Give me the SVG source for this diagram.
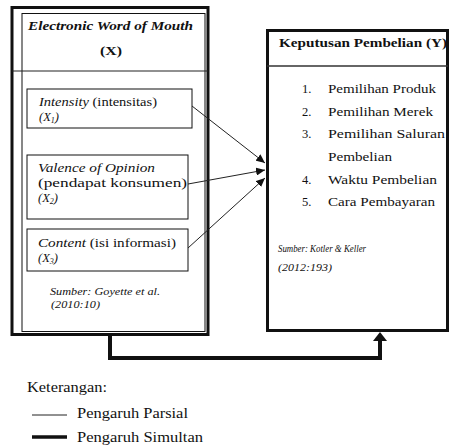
<svg xmlns="http://www.w3.org/2000/svg" width="450" height="446" viewBox="0 0 450 446" font-family="'Liberation Serif', 'Times New Roman', 'DejaVu Serif', serif">
<style>
text{font-family:'Liberation Serif','Times New Roman','DejaVu Serif',serif;fill:#111}
.b{font-weight:bold}
.i{font-style:italic}
.t{font-size:12.5px}
.s{font-size:10.5px;font-style:italic}
.l{font-size:14px}
.box{fill:none;stroke:#111}
.thin{stroke:#222;stroke-width:1;fill:none}
</style>
<defs>
<marker id="ah" markerUnits="userSpaceOnUse" markerWidth="10" markerHeight="8" refX="9" refY="4" orient="auto" viewBox="0 0 10 8">
<path d="M0,0 L9,4 L0,8 z" fill="#111"/>
</marker>
<marker id="ahb" markerUnits="userSpaceOnUse" markerWidth="10" markerHeight="14" refX="0" refY="7" orient="auto" viewBox="0 0 10 14">
<path d="M0,0 L9,7 L0,14 z" fill="#111"/>
</marker>
</defs>
<rect width="450" height="446" fill="#fff"/>

<g id="ewom">
<rect class="box" x="12" y="7.5" width="196" height="327" stroke-width="3"/>
<rect class="box" x="22" y="13.5" width="183" height="318" stroke-width="1"/>
<line x1="12" y1="71" x2="208" y2="71" stroke="#222" stroke-width="1.2"/>
<text class="t b i" x="28" y="30" textLength="165" lengthAdjust="spacingAndGlyphs">Electronic Word of Mouth</text>
<text class="t b" x="100" y="55" textLength="22" lengthAdjust="spacingAndGlyphs">(X)</text>
<text class="s" x="50" y="295" textLength="110" lengthAdjust="spacingAndGlyphs">Sumber: Goyette et al.</text>
<text class="s" x="51" y="308" textLength="49" lengthAdjust="spacingAndGlyphs">(2010:10)</text>
</g>

<g id="x1">
<rect class="box" x="27" y="89" width="165" height="39" stroke-width="1"/>
<text class="t" x="39" y="106" textLength="118" lengthAdjust="spacingAndGlyphs"><tspan class="i">Intensity</tspan> (intensitas)</text>
<text class="t i" x="39" y="121">(X<tspan font-size="8" dy="2">1</tspan><tspan dy="-2">)</tspan></text>
</g>

<g id="x2">
<rect class="box" x="27" y="155" width="161" height="64" stroke-width="1"/>
<text class="t i" x="38" y="172" textLength="117" lengthAdjust="spacingAndGlyphs">Valence of Opinion</text>
<text class="t" x="38" y="187" textLength="149" lengthAdjust="spacingAndGlyphs">(pendapat konsumen)</text>
<text class="t i" x="38" y="202">(X<tspan font-size="8" dy="2">2</tspan><tspan dy="-2">)</tspan></text>
</g>

<g id="x3">
<rect class="box" x="27" y="229" width="161" height="42" stroke-width="1"/>
<text class="t" x="38" y="247" textLength="138" lengthAdjust="spacingAndGlyphs"><tspan class="i">Content</tspan> (isi informasi)</text>
<text class="t i" x="38" y="262">(X<tspan font-size="8" dy="2">3</tspan><tspan dy="-2">)</tspan></text>
</g>

<g id="y">
<rect class="box" x="267.5" y="30.5" width="180" height="300" stroke-width="3"/>
<line x1="267" y1="66" x2="448" y2="66" stroke="#333" stroke-width="1.5"/>
<text class="t b" x="279" y="47" textLength="168" lengthAdjust="spacingAndGlyphs">Keputusan Pembelian (Y)</text>
<text class="t" x="302" y="93">1.</text>
<text class="t" x="328" y="93" textLength="108" lengthAdjust="spacingAndGlyphs">Pemilihan Produk</text>
<text class="t" x="302" y="116">2.</text>
<text class="t" x="328" y="116" textLength="105" lengthAdjust="spacingAndGlyphs">Pemilihan Merek</text>
<text class="t" x="302" y="138">3.</text>
<text class="t" x="328" y="138" textLength="117" lengthAdjust="spacingAndGlyphs">Pemilihan Saluran</text>
<text class="t" x="328" y="161" textLength="64" lengthAdjust="spacingAndGlyphs">Pembelian</text>
<text class="t" x="302" y="184">4.</text>
<text class="t" x="328" y="184" textLength="109" lengthAdjust="spacingAndGlyphs">Waktu Pembelian</text>
<text class="t" x="302" y="206">5.</text>
<text class="t" x="328" y="206" textLength="107" lengthAdjust="spacingAndGlyphs">Cara Pembayaran</text>
<text class="s" x="278" y="252" textLength="88" lengthAdjust="spacingAndGlyphs">Sumber: Kotler &amp; Keller</text>
<text class="s" x="278" y="271" textLength="54" lengthAdjust="spacingAndGlyphs">(2012:193)</text>
</g>

<g id="connectors">
<line class="thin" x1="192" y1="106" x2="265" y2="163" marker-end="url(#ah)"/>
<line class="thin" x1="188" y1="184" x2="265" y2="170" marker-end="url(#ah)"/>
<line class="thin" x1="188" y1="248" x2="265" y2="178" marker-end="url(#ah)"/>
<polyline points="110,335 110,358 380,358 380,341" fill="none" stroke="#111" stroke-width="4" stroke-linejoin="miter" marker-end="url(#ahb)"/>
</g>

<g id="legend">
<text class="l" x="27" y="392" textLength="80" lengthAdjust="spacingAndGlyphs">Keterangan:</text>
<line x1="32" y1="415" x2="67" y2="415" stroke="#222" stroke-width="1"/>
<text class="l" x="77" y="418" textLength="111" lengthAdjust="spacingAndGlyphs">Pengaruh Parsial</text>
<line x1="32" y1="437" x2="67" y2="437" stroke="#111" stroke-width="3.5"/>
<text class="l" x="77" y="442" textLength="126" lengthAdjust="spacingAndGlyphs">Pengaruh Simultan</text>
</g>
</svg>
